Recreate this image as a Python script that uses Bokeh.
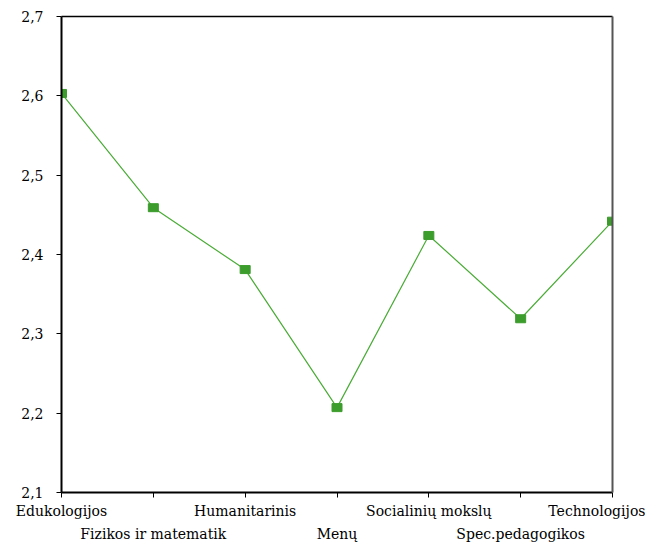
from bokeh.plotting import figure
from bokeh.models import FixedTicker, LinearAxis, Range1d
from bokeh.embed import file_html
from bokeh.resources import INLINE

categories = ["Edukologijos", "Fizikos ir matematik", "Humanitarinis", "Menų",
              "Socialinių mokslų", "Spec.pedagogikos", "Technologijos"]
values = [2.603, 2.459, 2.381, 2.207, 2.424, 2.319, 2.442]
y_ticks = [2.1, 2.2, 2.3, 2.4, 2.5, 2.6, 2.7]
y_tick_labels = ["2,1", "2,2", "2,3", "2,4", "2,5", "2,6", "2,7"]

FONT = "DejaVu Serif"
FSIZE = "14px"
xs = list(range(len(categories)))

p = figure(width=645, height=544, output_backend="svg", toolbar_location=None,
           x_range=Range1d(0, len(categories) - 1), y_range=Range1d(2.1, 2.7),
           x_axis_location=None, y_axis_location=None,
           min_border_left=61, min_border_right=33, min_border_top=16, min_border_bottom=10)
p.grid.visible = False
p.outline_line_color = None
p.background_fill_color = "white"
p.border_fill_color = "white"

p.line(xs, values, line_color="#4aac36", line_width=1.2)
p.rect(xs, values, width=10, height=8, width_units="screen", height_units="screen",
       fill_color="#3c9c2c", line_color="#3c9c2c")

# left axis
ya = LinearAxis(ticker=FixedTicker(ticks=y_ticks),
                major_label_overrides={t: l for t, l in zip(y_ticks, y_tick_labels)})
ya.axis_line_color = "black"
ya.axis_line_width = 2
ya.major_tick_out = 5
ya.major_tick_in = 0
ya.major_tick_line_color = "black"
ya.minor_tick_line_color = None
ya.major_label_text_font = FONT
ya.major_label_text_font_size = FSIZE
ya.major_label_text_color = "black"
ya.major_label_standoff = 13
p.add_layout(ya, "left")

# bottom axis, first row of labels
xa1 = LinearAxis(ticker=FixedTicker(ticks=xs),
                 major_label_overrides={i: (c if i % 2 == 0 else "") for i, c in zip(xs, categories)})
xa1.axis_line_color = "black"
xa1.axis_line_width = 2
xa1.major_tick_out = 5
xa1.major_tick_in = 0
xa1.major_tick_line_color = "black"
xa1.minor_tick_line_color = None
xa1.major_label_text_font = FONT
xa1.major_label_text_font_size = FSIZE
xa1.major_label_text_color = "black"
xa1.major_label_standoff = 5
p.add_layout(xa1, "below")

# second row of labels
odd = [i for i in xs if i % 2 == 1]
xa2 = LinearAxis(ticker=FixedTicker(ticks=odd),
                 major_label_overrides={i: categories[i] for i in odd})
xa2.axis_line_color = None
xa2.major_tick_line_color = None
xa2.minor_tick_line_color = None
xa2.major_tick_out = 0
xa2.major_label_text_font = FONT
xa2.major_label_text_font_size = FSIZE
xa2.major_label_text_color = "black"
xa2.major_label_standoff = 4
p.add_layout(xa2, "below")

# top and right borders
ta = LinearAxis(ticker=FixedTicker(ticks=[]), major_label_text_font_size="0px")
ta.axis_line_color = "black"
ta.axis_line_width = 1.5
ta.major_tick_line_color = None
ta.minor_tick_line_color = None
p.add_layout(ta, "above")

ra = LinearAxis(ticker=FixedTicker(ticks=[]), major_label_text_font_size="0px")
ra.axis_line_color = "#555555"
ra.axis_line_width = 2
ra.major_tick_line_color = None
ra.minor_tick_line_color = None
p.add_layout(ra, "right")

open("out.html", "w").write(file_html(p, INLINE))
